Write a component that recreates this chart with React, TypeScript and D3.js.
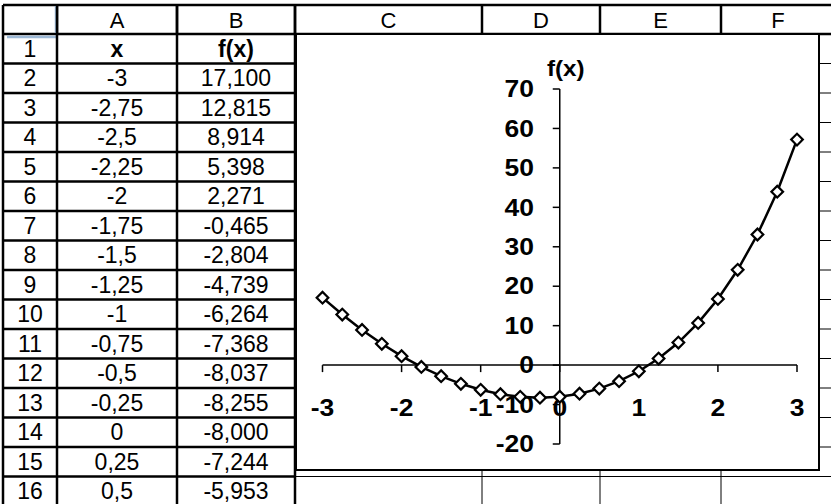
import React from 'react';
import * as d3 from 'd3';

// data: x from -3 to 3 step 0.25, f(x) values
const xValues = [-3, -2.75, -2.5, -2.25, -2, -1.75, -1.5, -1.25, -1, -0.75, -0.5, -0.25, 0,
  0.25, 0.5, 0.75, 1, 1.25, 1.5, 1.75, 2, 2.25, 2.5, 2.75, 3];
const fValues = [17.1, 12.815, 8.914, 5.398, 2.271, -0.465, -2.804, -4.739, -6.264, -7.368, -8.037, -8.255, -8.0,
  -7.244, -5.953, -4.078, -1.563, 1.668, 5.713, 10.697, 16.778, 24.163, 33.115, 43.973, 57.171];
const columnLetters = ['A', 'B', 'C', 'D', 'E', 'F'];
const tableHeader = ['x', 'f(x)'];
const visibleDataRows = 15;
const xTicks = [-3, -2, -1, 0, 1, 2, 3];
const yTicks = [70, 60, 50, 40, 30, 20, 10, 0, -10, -20];

// sheet layout
const W = 831;
const H = 504;
const colEdges = [3, 57, 177, 295, 482, 600, 721, 845];
const headerTop = 5;
const headerBottom = 34;
const rowH = 29.5;
const chartBox = { left: 296, top: 34, right: 819, bottom: 470 };

const comma = (s: string) => s.replace('.', ',');

const App = () => {
  const x = d3.scaleLinear().domain([-3, 3]).range([322.5, 797]);
  const y = d3.scaleLinear().domain([-20, 70]).range([444, 89]);
  const pts = xValues.map((v, i) => [x(v), y(fValues[i])] as [number, number]);
  const line = d3.line()(pts) || '';
  const diamond = d3.symbol().type(d3.symbolSquare).size(68)() || '';

  const rowTop = (r: number) => headerBottom + (r - 1) * rowH;
  const rowCount = 16;
  const thick = 2.5;
  const x0 = x(0);
  const y0 = y(0);

  return (
    <svg width={W} height={H} style={{ position: 'absolute', left: 0, top: 0, background: '#fff' }}
      fontFamily="Arial, 'Liberation Sans', sans-serif">
      <rect width={W} height={H} fill="#fff" />

      {/* thin grid in columns C..F */}
      {d3.range(1, rowCount + 1).map(r => (
        <line key={'hr' + r} x1={colEdges[3]} x2={W} y1={rowTop(r) + rowH} y2={rowTop(r) + rowH} stroke="#000" strokeWidth={1} />
      ))}
      {colEdges.slice(4, 7).map((cx, i) => (
        <line key={'vc' + i} x1={cx} x2={cx} y1={headerBottom} y2={H} stroke="#000" strokeWidth={1} />
      ))}

      {/* header row */}
      <line x1={colEdges[0]} x2={W} y1={headerTop} y2={headerTop} stroke="#000" strokeWidth={thick} />
      <line x1={colEdges[0]} x2={W} y1={headerBottom} y2={headerBottom} stroke="#000" strokeWidth={thick} />
      {colEdges.slice(1, 7).map((cx, i) => (
        <line key={'vh' + i} x1={cx} x2={cx} y1={headerTop} y2={headerBottom} stroke="#000" strokeWidth={thick} />
      ))}
      {columnLetters.map((c, i) => (
        <text key={c} x={(colEdges[i + 1] + Math.min(colEdges[i + 2], 835)) / 2} y={28} textAnchor="middle" fontSize={22}>{c}</text>
      ))}
      {/* corner selection marks */}
      <line x1={colEdges[1] - 1} x2={colEdges[1] - 1} y1={headerTop + 1} y2={headerBottom - 1} stroke="#9db9d6" strokeWidth={2.5} />
      <line x1={colEdges[0] + 4} x2={colEdges[1] - 1} y1={headerBottom + 3} y2={headerBottom + 3} stroke="#9db9d6" strokeWidth={2.5} />

      {/* table grid A..B */}
      {d3.range(1, rowCount + 1).map(r => (
        <line key={'tr' + r} x1={colEdges[0]} x2={colEdges[3]} y1={rowTop(r) + rowH} y2={rowTop(r) + rowH} stroke="#000" strokeWidth={thick} />
      ))}
      {colEdges.slice(0, 4).map((cx, i) => (
        <line key={'tv' + i} x1={cx} x2={cx} y1={headerTop} y2={H} stroke="#000" strokeWidth={thick} />
      ))}

      {/* row numbers and cells */}
      {d3.range(1, rowCount + 1).map(r => (
        <text key={'rn' + r} x={(colEdges[0] + colEdges[1]) / 2} y={rowTop(r) + rowH / 2 + 8} textAnchor="middle" fontSize={23}>{r}</text>
      ))}
      {tableHeader.map((t, i) => (
        <text key={'th' + i} x={(colEdges[i + 1] + colEdges[i + 2]) / 2} y={rowTop(1) + rowH / 2 + 8} textAnchor="middle" fontSize={23} fontWeight="bold">{t}</text>
      ))}
      {xValues.slice(0, visibleDataRows).map((v, i) => (
        <g key={'row' + i}>
          <text x={(colEdges[1] + colEdges[2]) / 2} y={rowTop(i + 2) + rowH / 2 + 8} textAnchor="middle" fontSize={23}>{comma(String(v))}</text>
          <text x={(colEdges[2] + colEdges[3]) / 2} y={rowTop(i + 2) + rowH / 2 + 8} textAnchor="middle" fontSize={23}>{comma(fValues[i].toFixed(3))}</text>
        </g>
      ))}

      {/* chart */}
      <rect x={chartBox.left} y={chartBox.top} width={chartBox.right - chartBox.left} height={chartBox.bottom - chartBox.top}
        fill="#fff" stroke="#000" strokeWidth={2} />

      {/* y axis */}
      <line x1={x0} x2={x0} y1={y(70)} y2={y(-20)} stroke="#000" strokeWidth={1.5} />
      {yTicks.map(t => (
        <g key={'yt' + t}>
          <line x1={x0 - 7} x2={x0} y1={y(t)} y2={y(t)} stroke="#000" strokeWidth={1.5} />
          <text transform={`translate(534,${y(t) + 8.2}) scale(1.15,1)`} textAnchor="end" fontSize={23} fontWeight="bold">{t}</text>
        </g>
      ))}
      <text transform={`translate(547,76) scale(1.1,1)`} fontSize={22} fontWeight="bold">f(x)</text>

      {/* x axis */}
      <line x1={x(-3)} x2={x(3)} y1={y0} y2={y0} stroke="#000" strokeWidth={1.5} />
      {xTicks.map(t => (
        <g key={'xt' + t}>
          <line x1={x(t)} x2={x(t)} y1={y0} y2={y0 + 7} stroke="#000" strokeWidth={1.5} />
          <text transform={`translate(${x(t)},${y0 + 51}) scale(1.15,1)`} textAnchor="middle" fontSize={23} fontWeight="bold">{t}</text>
        </g>
      ))}

      {/* series */}
      <path d={line} fill="none" stroke="#000" strokeWidth={2.5} />
      {pts.map(([px, py], i) => (
        <path key={'m' + i} d={diamond} transform={`translate(${px},${py}) rotate(45)`} fill="#fff" stroke="#000" strokeWidth={2.2} />
      ))}
    </svg>
  );
};

export default App;
